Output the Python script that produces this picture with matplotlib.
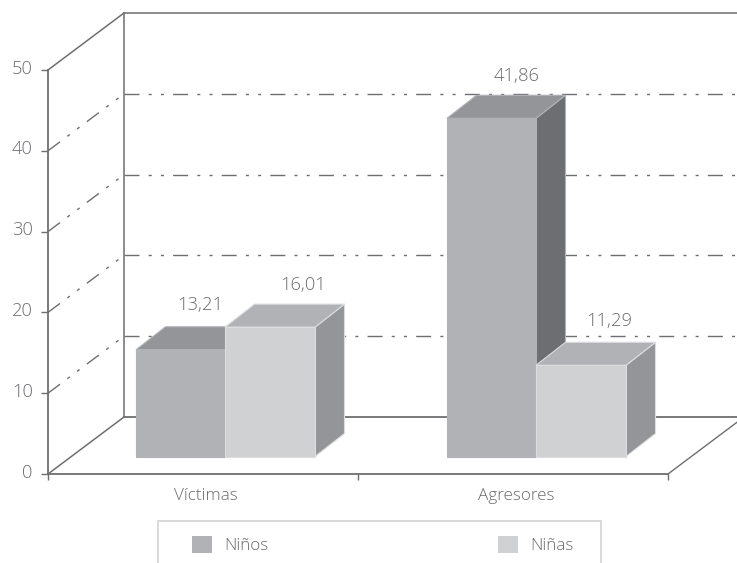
import matplotlib
matplotlib.use("Agg")
import matplotlib.pyplot as plt
from matplotlib.patches import Polygon, Rectangle, Patch
from matplotlib.transforms import ScaledTranslation

categories = ["Víctimas", "Agresores"]
series_names = ["Niños", "Niñas"]
ninos = [13.21, 41.86]
ninas = [16.01, 11.29]
value_labels = [["13,21", "41,86"], ["16,01", "11,29"]]
y_ticks = [0, 10, 20, 30, 40, 50]
back_grid = [10, 20, 30, 40]

W, H = 737, 563
FONT = "Open Sans"
WEIGHT = "light"
TXT = "#6a6b6e"
LINE = "#6d6e71"
DASH = (0, (10.8, 6.6, 2.2, 6.6, 2.2, 6.6))

fig = plt.figure(figsize=(W / 100, H / 100), dpi=100)
fig.patch.set_facecolor("white")
L, R, B, T = 48, 668, 474, 70
ax = fig.add_axes([L / W, 1 - B / H, (R - L) / W, (B - T) / H])
ax.set_xlim(0, 2)
ax.set_ylim(0, 50)
ax.patch.set_visible(False)

px = 2 / (R - L)          # x data units per pixel
py = 50 / (B - T)         # y data units per pixel
DX, DY = 76 * px, 57 * py # wall depth
BDX, BDY = 29.5 * px, 23 * py  # bar depth
LIFT = 17.5 * py          # bar base above front floor edge


def line(xs, ys, **kw):
    style = dict(color=LINE, lw=1.1, clip_on=False, zorder=2, solid_capstyle="projecting")
    style.update(kw)
    ax.plot(xs, ys, **style)


# walls
line([DX, DX], [DY, 50 + DY])
line([0, DX], [50, 50 + DY])
line([DX, 2 + DX], [50 + DY, 50 + DY])
line([0, DX], [0, DY])
line([DX, 2 + DX], [DY, DY], lw=1.3)
line([2, 2 + DX], [0, DY], lw=1.0)
for v in back_grid:
    line([DX, 2 + DX], [v + DY, v + DY], ls=DASH, lw=1.0)
    line([0, DX], [v, v + DY], ls=DASH, lw=1.0)

# bars
bar_left = [[136, 225], [447, 536]]
bar_w = [89 * px, 90 * px]
FRONT = ["#b1b2b5", "#d0d1d3"]
TOP = ["#939598", "#b1b2b5"]
SIDE = ["#6d6e71", "#939598"]
EDGE = ["#b1b2b5", "#dcddde"]
label_dx = [[20, 25], [33, 28]]
label_dy = [[45, 42], [42, 44]]

for c in range(len(categories)):
    for s, vals in enumerate([ninos, ninas]):
        x0 = (bar_left[c][s] - L) * px
        x1 = x0 + bar_w[s]
        top = vals[c] + LIFT
        z = 3 + c * 2 + s * 0.5
        ax.add_patch(Polygon([(x1, LIFT), (x1 + BDX, LIFT + BDY), (x1 + BDX, top + BDY), (x1, top)],
                             fc=SIDE[s], ec=EDGE[s], lw=0.8, clip_on=False, zorder=z, joinstyle="miter"))
        ax.add_patch(Polygon([(x0, top), (x0 + BDX, top + BDY), (x1 + BDX, top + BDY), (x1, top)],
                             fc=TOP[s], ec=EDGE[s], lw=0.8, clip_on=False, zorder=z, joinstyle="miter"))
        ax.add_patch(Rectangle((x0, LIFT), x1 - x0, vals[c], fc=FRONT[s], ec=EDGE[s], lw=0.8,
                               clip_on=False, zorder=z + 0.1))
        ax.text((x0 + x1) / 2 + label_dx[s][c] * px, top + label_dy[s][c] * py, value_labels[s][c],
                ha="center", va="center", color=TXT, fontsize=13.2, family=FONT, weight=WEIGHT, zorder=9)

# axes
for side in ["top", "right"]:
    ax.spines[side].set_visible(False)
for side in ["left", "bottom"]:
    ax.spines[side].set_color(LINE)
    ax.spines[side].set_linewidth(1.3)
    ax.spines[side].set_zorder(8)
ax.set_yticks(y_ticks)
ax.set_yticklabels([str(v) for v in y_ticks])
ax.set_xticks([0, 1, 2])
ax.set_xticklabels([])
ax.set_xticks([0.51, 1.51], minor=True)
ax.set_xticklabels(categories, minor=True)
ax.tick_params(axis="y", length=5, width=1, color=LINE, labelcolor=TXT, labelsize=13.2, pad=6)
ax.tick_params(axis="x", which="major", length=4.5, width=1, color=LINE)
ax.tick_params(axis="x", which="minor", length=0, labelcolor=TXT, labelsize=12.3, pad=10)
for t in ax.get_yticklabels():
    t.set_family(FONT)
    t.set_weight(WEIGHT)
    t.set_transform(t.get_transform() + ScaledTranslation(0, 2.5 / 72, fig.dpi_scale_trans))
for t in ax.get_xticklabels(minor=True):
    t.set_family(FONT)
    t.set_weight(WEIGHT)

# legend
fig.add_artist(Rectangle((158 / W, 1 - 575 / H), 443 / W, 54 / H, fc="white", ec="#d1d3d4", lw=1.2,
                         transform=fig.transFigure))
handles = [Patch(fc=FRONT[0], ec="none"), Patch(fc=FRONT[1], ec="none")]
leg = fig.legend(handles, series_names, ncol=2, frameon=False, loc="upper left",
                 bbox_to_anchor=(192 / W, 1 - 536 / H), borderaxespad=0, borderpad=0,
                 handlelength=1.17, handleheight=1.17, handletextpad=0.7, columnspacing=13.45,
                 prop={"family": FONT, "size": 12.3, "weight": WEIGHT})
for t in leg.get_texts():
    t.set_color(TXT)

fig.savefig("out.png", dpi=100, facecolor="white")
